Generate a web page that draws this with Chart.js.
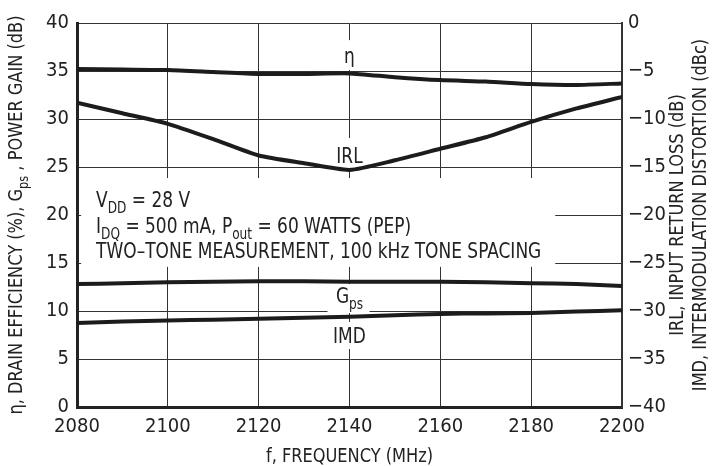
<!DOCTYPE html>
<html><head><meta charset="utf-8">
<script src="https://cdn.jsdelivr.net/npm/chart.js@4/dist/chart.umd.min.js"></script>
<style>html,body{margin:0;padding:0;background:#fff}#wrap{width:714px;height:466px;position:relative}</style>
</head><body><div id="wrap"><canvas id="c" width="714" height="466"></canvas></div>
<script>
const FONT = "'Liberation Sans Narrow','DejaVu Sans Condensed','Arial Narrow',sans-serif";
const frequency = [2080, 2090, 2100, 2110, 2120, 2130, 2140, 2150, 2160, 2170, 2180, 2190, 2200];
const drainEfficiency = [35.2, 35.15, 35.1, 34.9, 34.7, 34.7, 34.75, 34.35, 34.05, 33.9, 33.65, 33.55, 33.7];
const powerGain = [12.8, 12.9, 13.0, 13.05, 13.1, 13.1, 13.05, 13.05, 13.05, 13.0, 12.9, 12.8, 12.6];
const inputReturnLoss = [-8.3, -9.4, -10.5, -12.1, -13.8, -14.6, -15.3, -14.3, -13.1, -11.9, -10.3, -8.9, -7.7];
const imd = [-31.25, -31.1, -31.0, -30.9, -30.8, -30.7, -30.6, -30.45, -30.3, -30.25, -30.2, -30.05, -29.93];
const xTicks = [2080, 2100, 2120, 2140, 2160, 2180, 2200];
const leftTicks = [0, 5, 10, 15, 20, 25, 30, 35, 40];
const rightTicks = [-40, -35, -30, -25, -20, -15, -10, -5, 0];

const pts = (ys) => frequency.map((f, i) => ({x: f, y: ys[i]}));
const LINE = '#1c1c1c';
const GRID = '#333';
const SX = 0.9; // horizontal squeeze for condensed look

function drawRich(ctx, segs, x, y, size, align) {
  const subSize = Math.round(size * 0.72);
  let total = 0;
  segs.forEach(s => { ctx.font = (s.sub ? subSize : size) + 'px ' + FONT; s.w = ctx.measureText(s.t).width; total += s.w; });
  ctx.save();
  ctx.translate(x, y); ctx.scale(SX, 1);
  let cx = align === 'center' ? -total / 2 : 0;
  ctx.textAlign = 'left'; ctx.textBaseline = 'alphabetic';
  segs.forEach(s => {
    ctx.font = (s.sub ? subSize : size) + 'px ' + FONT;
    ctx.fillText(s.t, cx, s.sub ? size * 0.28 : 0);
    cx += s.w;
  });
  ctx.restore();
}

const labels = [
  {x: 2140, y: 36.55, segs: [{t: 'η'}], box: [-16, -16, 32, 30]},
  {x: 2140, y: 26.15, segs: [{t: 'IRL'}], box: [-20, -18, 40, 31]},
  {x: 2140, y: 11.55, segs: [{t: 'G'}, {t: 'ps', sub: true}], box: [-22, -12, 42, 29]},
  {x: 2140, y: 7.4, segs: [{t: 'IMD'}], box: [-20, -14, 40, 27]},
];
const noteLines = [
  [{t: 'V'}, {t: 'DD', sub: true}, {t: ' = 28 V'}],
  [{t: 'I'}, {t: 'DQ', sub: true}, {t: ' = 500 mA, P'}, {t: 'out', sub: true}, {t: ' = 60 WATTS (PEP)'}],
  [{t: 'TWO–TONE MEASUREMENT, 100 kHz TONE SPACING'}],
];
const noteBaselines = [20.83, 18.13, 15.52];

const annot = {
  id: 'annot',
  beforeDatasetsDraw(chart) {
    const ctx = chart.ctx, xs = chart.scales.x, ys = chart.scales.y;
    ctx.save(); ctx.fillStyle = '#fff';
    labels.forEach(l => {
      const px = xs.getPixelForValue(l.x), py = ys.getPixelForValue(l.y);
      ctx.fillRect(px + l.box[0], py + l.box[1], l.box[2], l.box[3]);
    });
    const bx0 = xs.getPixelForValue(2080.9), bx1 = xs.getPixelForValue(2185.3);
    const by0 = ys.getPixelForValue(23.85), by1 = ys.getPixelForValue(14.6);
    ctx.fillRect(bx0, by0, bx1 - bx0, by1 - by0);
    ctx.restore();
  },
  afterDatasetsDraw(chart) {
    const ctx = chart.ctx, xs = chart.scales.x, ys = chart.scales.y;
    ctx.save(); ctx.fillStyle = '#222';
    labels.forEach(l => {
      const px = xs.getPixelForValue(l.x), py = ys.getPixelForValue(l.y);
      drawRich(ctx, l.segs, px, py + 7, 21, 'center');
    });
    const nx = xs.getPixelForValue(2084.2);
    noteLines.forEach((segs, i) => drawRich(ctx, segs, nx, ys.getPixelForValue(noteBaselines[i]), 21, 'left'));
    ctx.restore();
  },
  afterDraw(chart) {
    const ctx = chart.ctx, a = chart.chartArea;
    const cy = (a.top + a.bottom) / 2;
    ctx.save(); ctx.fillStyle = '#222';
    drawRich(ctx, [{t: 'f, FREQUENCY (MHz)'}], (a.left + a.right) / 2, a.bottom + 55, 20, 'center');
    ctx.save(); ctx.translate(22, cy); ctx.rotate(-Math.PI / 2);
    drawRich(ctx, [{t: 'η, DRAIN EFFICIENCY (%), G'}, {t: 'ps', sub: true}, {t: ' , POWER GAIN (dB)'}], 0, 0, 20, 'center');
    ctx.restore();
    ctx.save(); ctx.translate(683, cy); ctx.rotate(-Math.PI / 2);
    drawRich(ctx, [{t: 'IRL, INPUT RETURN LOSS (dB)'}], 0, 0, 20, 'center');
    ctx.restore();
    ctx.save(); ctx.translate(706, cy); ctx.rotate(-Math.PI / 2);
    drawRich(ctx, [{t: 'IMD, INTERMODULATION DISTORTION (dBc)'}], 0, 0, 20, 'center');
    ctx.restore();
    ctx.restore();
  }
};

const ds = (label, data, axis) => ({label, data: pts(data), yAxisID: axis, borderColor: LINE, borderWidth: 4, pointRadius: 0, tension: 0.2, fill: false});

new Chart(document.getElementById('c'), {
  type: 'line',
  data: {datasets: [
    ds('η', drainEfficiency, 'y'),
    ds('Gps', powerGain, 'y'),
    ds('IRL', inputReturnLoss, 'y2'),
    ds('IMD', imd, 'y2'),
  ]},
  options: {
    responsive: false, animation: false, events: [],
    layout: {padding: {top: 23, left: 0, right: 0, bottom: 0}},
    plugins: {legend: {display: false}, tooltip: {enabled: false}},
    scales: {
      x: {type: 'linear', min: 2080, max: 2200,
        afterBuildTicks: s => { s.ticks = xTicks.map(v => ({value: v})); },
        afterFit: s => { s.height = 59; },
        grid: {color: GRID, lineWidth: 1, drawTicks: false},
        border: {color: '#222', width: 3},
        ticks: {color: '#222', font: {family: FONT, size: 20}, padding: 8, maxRotation: 0,
          callback: v => String(v)}},
      y: {type: 'linear', position: 'left', min: 0, max: 40,
        afterBuildTicks: s => { s.ticks = leftTicks.map(v => ({value: v})); },
        afterFit: s => { s.width = 77; },
        grid: {color: GRID, lineWidth: 1, drawTicks: false},
        border: {color: '#222', width: 3},
        ticks: {color: '#222', font: {family: FONT, size: 20}, padding: 8}},
      y2: {type: 'linear', position: 'right', min: -40, max: 0,
        afterBuildTicks: s => { s.ticks = rightTicks.map(v => ({value: v})); },
        afterFit: s => { s.width = 92; },
        grid: {display: false, drawTicks: false},
        border: {color: '#333', width: 2},
        ticks: {color: '#222', font: {family: FONT, size: 20}, padding: 6,
          callback: v => v < 0 ? '−' + Math.abs(v) : String(v)}}
    }
  },
  plugins: [annot]
});
</script></body></html>
